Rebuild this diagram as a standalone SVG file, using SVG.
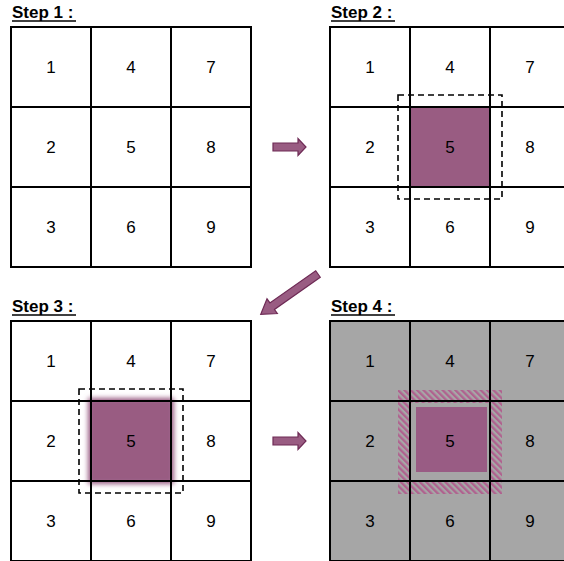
<svg xmlns="http://www.w3.org/2000/svg" width="564" height="561" viewBox="0 0 564 561">
<style>
.grid{fill:none;stroke:#000;stroke-width:2}
.num{font-family:"Liberation Sans",Arial,sans-serif;font-size:17px;fill:#000;text-anchor:middle}
.lbl{font-family:"Liberation Sans",Arial,sans-serif;font-size:17px;font-weight:bold;fill:#000}
.ul{stroke:#000;stroke-width:1.5}
.dash{fill:none;stroke:#000;stroke-width:1.6;stroke-dasharray:6 4}
.arrow{fill:#995C82;stroke:#6E2A55;stroke-width:1.2}
.purple{fill:#995C82}
</style>
<defs>
<filter id="blur" x="-20%" y="-20%" width="140%" height="140%"><feGaussianBlur stdDeviation="2.5"/></filter>
<pattern id="hatch" width="4.5" height="4.5" patternUnits="userSpaceOnUse" patternTransform="rotate(-45)">
<rect x="0" y="0" width="2.3" height="4.5" fill="#B0628F"/>
</pattern>
<g id="grid">
<rect x="0" y="0" width="240" height="240" class="grid"/>
<line x1="80" y1="0" x2="80" y2="240" class="grid"/>
<line x1="160" y1="0" x2="160" y2="240" class="grid"/>
<line x1="0" y1="80" x2="240" y2="80" class="grid"/>
<line x1="0" y1="160" x2="240" y2="160" class="grid"/>
</g>
<g id="nums">
<text x="40" y="46" class="num">1</text>
<text x="120" y="46" class="num">4</text>
<text x="200" y="46" class="num">7</text>
<text x="40" y="126" class="num">2</text>
<text x="120" y="126" class="num">5</text>
<text x="200" y="126" class="num">8</text>
<text x="40" y="206" class="num">3</text>
<text x="120" y="206" class="num">6</text>
<text x="200" y="206" class="num">9</text>
</g>
</defs>

<g id="step1">
<text x="12" y="18" class="lbl">Step 1 :</text>
<line x1="12" y1="21" x2="76" y2="21" class="ul"/>
<rect x="11" y="27" width="240" height="240" fill="#fff"/>
<use href="#grid" x="11" y="27"/>
<use href="#nums" x="11" y="27"/>
</g>

<g id="step2">
<text x="331" y="18" class="lbl">Step 2 :</text>
<line x1="331" y1="21" x2="395" y2="21" class="ul"/>
<rect x="330" y="27" width="240" height="240" fill="#fff"/>
<rect x="410" y="107" width="80" height="80" class="purple"/>
<use href="#grid" x="330" y="27"/>
<rect x="398" y="95" width="104" height="104" class="dash"/>
<use href="#nums" x="330" y="27"/>
</g>

<g id="step3">
<text x="12" y="312" class="lbl">Step 3 :</text>
<line x1="12" y1="315" x2="76" y2="315" class="ul"/>
<rect x="11" y="321" width="240" height="240" fill="#fff"/>
<rect x="88" y="398" width="86" height="86" class="purple" filter="url(#blur)"/>
<use href="#grid" x="11" y="321"/>
<rect x="79" y="389" width="104" height="104" class="dash"/>
<use href="#nums" x="11" y="321"/>
</g>

<g id="step4">
<text x="331" y="312" class="lbl">Step 4 :</text>
<line x1="331" y1="315" x2="395" y2="315" class="ul"/>
<rect x="330" y="321" width="240" height="240" fill="#A6A6A6"/>
<path d="M398 390 H502 V494 H398 Z M411 403 V480 H491 V403 Z" fill="url(#hatch)" fill-rule="evenodd"/>
<rect x="416" y="407" width="71" height="65" fill="#995C84"/>
<use href="#grid" x="330" y="321"/>
<use href="#nums" x="330" y="321"/>
</g>

<g id="connectors">
<polygon class="arrow" transform="translate(273,147)" points="0,-4 25,-4 25,-8.5 33,0 25,8.5 25,4 0,4"/>
<polygon class="arrow" transform="translate(273,441)" points="0,-4 25,-4 25,-8.5 33,0 25,8.5 25,4 0,4"/>
<polygon class="arrow" transform="translate(318,274) rotate(144.9)" points="0,-4 56,-4 56,-9 70,0 56,9 56,4 0,4"/>
</g>
</svg>
